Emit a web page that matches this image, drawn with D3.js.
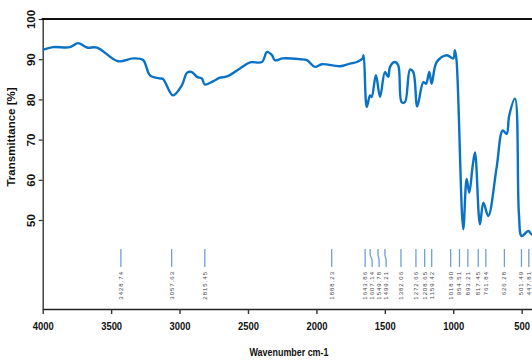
<!DOCTYPE html>
<html>
<head>
<meta charset="utf-8">
<script src="https://cdn.jsdelivr.net/npm/d3@7"></script>
<style>
  body { margin: 0; background: #fff; }
  svg { display: block; }
</style>
</head>
<body>
<div class="ir-chart"></div>
<script>
// spectrum trace
const waveNumbers = [4000, 3925, 3801, 3742, 3676, 3603, 3450, 3340, 3267, 3216, 3143, 3121, 3048, 2983, 2946, 2910, 2873, 2837, 2815, 2756, 2705, 2654, 2559, 2485, 2398, 2361, 2325, 2303, 2245, 2120, 2069, 2011, 1960, 1828, 1755, 1704, 1663, 1655, 1632, 1608, 1596, 1565, 1535, 1499, 1475, 1462, 1426, 1402, 1377, 1353, 1316, 1292, 1263, 1219, 1199, 1175, 1158, 1121, 1048, 1000, 988, 976, 927, 902, 883, 858, 841, 805, 780, 744, 683, 639, 610, 591, 549, 520, 500, 452, 425, 400];
const transmittance = [92.3, 93, 93, 94, 92.9, 92.9, 89.5, 90.2, 89.8, 86, 85.2, 85.1, 81, 83.5, 86.6, 86.8, 85.6, 85.2, 83.7, 84.5, 85.4, 85.7, 87.7, 89.2, 89.3, 91.8, 91, 89.75, 90.2, 90, 89.75, 88.1, 88.75, 88.25, 88.9, 89.3, 90.2, 91, 78.1, 81, 80.6, 86, 80.6, 86.8, 85.6, 88.1, 89.3, 88.5, 79.3, 79.3, 87.4, 86.8, 78.25, 84.3, 83.9, 86.8, 83.9, 89.3, 91, 90.2, 92.25, 89.75, 47.7, 60.2, 56.8, 63.5, 66.8, 48.9, 54.3, 51, 63.1, 72.25, 71.4, 76, 80.2, 51.4, 46, 47.25, 46.4, 47];

// peak picks
const peakLabels = [3428.74, 3057.63, 2815.45, 1888.23, 1643.86, 1607.14, 1549.78, 1499.21, 1382.06, 1272.66, 1208.65, 1159.42, 1018.90, 954.51, 893.21, 817.45, 761.84, 626.28, 501.49, 447.81];

const xTicks = [4000, 3500, 3000, 2500, 2000, 1500, 1000, 500];
const yTicks = [50, 60, 70, 80, 90, 100];

const width = 532, height = 361;
const plot = { left: 42.7, top: 19, bottom: 309 };
const font = '"Liberation Sans", Arial, sans-serif';

const svg = d3.select('.ir-chart')
  .append('svg')
  .attr('width', width)
  .attr('height', height);

const x = d3.scaleLinear()
  .domain([4000, 0])
  .range([plot.left, 590.1]);

const y = d3.scaleLinear()
  .domain([27.86, 100])
  .range([plot.bottom, plot.top]);

// axes
const xAxis = d3.axisBottom(x).tickValues(xTicks).tickFormat(d3.format('d')).tickSize(5).tickSizeOuter(0);
const yAxis = d3.axisLeft(y).tickValues(yTicks).tickSize(4).tickSizeOuter(0);

const xg = svg.append('g')
  .attr('transform', `translate(0, ${plot.bottom})`)
  .call(xAxis);
xg.select('.domain').attr('stroke', '#222').attr('stroke-width', 1.6);
xg.selectAll('.tick line').attr('stroke', '#333').attr('stroke-width', 1.4);
xg.selectAll('.tick text')
  .attr('y', 0)
  .attr('dy', 0)
  .attr('transform', 'translate(0, 21) scale(0.82, 1)')
  .attr('font-family', font)
  .attr('font-weight', 'bold')
  .attr('font-size', 11.5)
  .attr('fill', '#111');

const yg = svg.append('g')
  .attr('transform', `translate(${plot.left}, 0)`)
  .call(yAxis);
yg.select('.domain').attr('stroke', '#333').attr('stroke-width', 1.4);
yg.selectAll('.tick line').attr('stroke', '#333').attr('stroke-width', 1.2);
yg.selectAll('.tick text')
  .attr('x', 0)
  .attr('y', 0)
  .attr('dy', 0)
  .attr('text-anchor', 'middle')
  .attr('transform', 'translate(-8, 0) rotate(-90)')
  .attr('font-family', font)
  .attr('font-weight', 'bold')
  .attr('font-size', 11.5)
  .attr('fill', '#111');

// top frame
svg.append('line')
  .attr('x1', plot.left - 1).attr('x2', width)
  .attr('y1', y(100)).attr('y2', y(100))
  .attr('stroke', '#111')
  .attr('stroke-width', 1.8);

// axis titles
svg.append('text')
  .attr('transform', `translate(15, 137) rotate(-90)`)
  .attr('text-anchor', 'middle')
  .attr('font-family', font)
  .attr('font-weight', 'bold')
  .attr('font-size', 11.5)
  .attr('fill', '#111')
  .text('Transmittance [%]');

svg.append('text')
  .attr('transform', 'translate(289, 356) scale(0.85, 1)')
  .attr('text-anchor', 'middle')
  .attr('font-family', font)
  .attr('font-weight', 'bold')
  .attr('font-size', 10.5)
  .attr('fill', '#111')
  .text('Wavenumber cm-1');

// spectrum line
const data = waveNumbers.map((w, i) => ({ w, t: transmittance[i] }));
const line = d3.line()
  .x(d => x(d.w))
  .y(d => y(d.t))
  .curve(d3.curveCatmullRom.alpha(0.5));

svg.append('path')
  .datum(data)
  .attr('d', line)
  .attr('fill', 'none')
  .attr('stroke', '#0a72c4')
  .attr('stroke-width', 2.4)
  .attr('stroke-linejoin', 'round');

// peak markers: spread crowded labels, jog the leader
const gap = 7;
let prev = -Infinity;
const peaks = peakLabels.map(p => {
  const px = x(p);
  const lx = Math.max(px, prev + gap);
  prev = lx;
  return { p, px, lx };
});

const markerTop = 249, jogStart = 255, jogEnd = 260, markerBottom = 267;

const pk = svg.append('g')
  .selectAll('g')
  .data(peaks)
  .join('g');

pk.append('path')
  .attr('d', d => d.lx - d.px < 0.5
    ? `M${d.lx},${markerTop}V${markerBottom}`
    : `M${d.px},${markerTop}V${jogStart}L${d.lx},${jogEnd}V${markerBottom}`)
  .attr('fill', 'none')
  .attr('stroke', '#6f9fd6')
  .attr('stroke-width', 1.3);

pk.append('text')
  .attr('transform', d => `translate(${d.lx + 2}, 271) rotate(-90)`)
  .attr('text-anchor', 'end')
  .attr('font-family', font)
  .attr('font-size', 6)
  .attr('letter-spacing', 1)
  .attr('fill', '#444')
  .text(d => d.p.toFixed(2));
</script>
</body>
</html>
